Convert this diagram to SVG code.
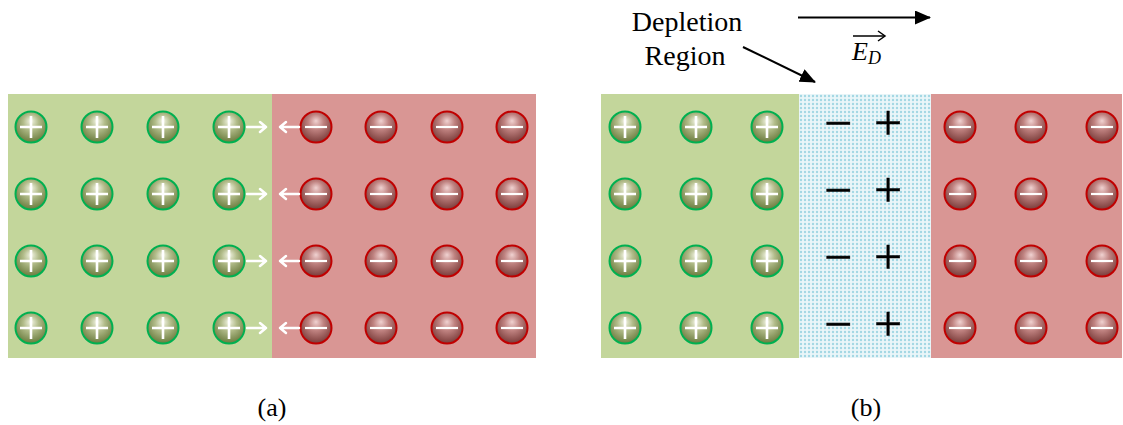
<svg xmlns="http://www.w3.org/2000/svg" xmlns:xlink="http://www.w3.org/1999/xlink" width="1123" height="425" viewBox="0 0 1123 425">
  <style>
    .ptype { fill: #c3d69b; }
    .ntype { fill: #d99694; }
    .serif { font-family: 'Liberation Serif', 'Times New Roman', serif; fill: #000; }
    .wline { stroke: #fff; stroke-width: 2.5; fill: none; stroke-linecap: round; stroke-linejoin: round; }
    .kline { stroke: #000; stroke-width: 2; fill: none; }
  </style>
  <defs>
    <radialGradient id="gradHole" cx="0.5" cy="0.4" r="0.62" fx="0.5" fy="0.3">
      <stop offset="0" stop-color="#f2f4e4"/>
      <stop offset="0.4" stop-color="#b2bc8a"/>
      <stop offset="1" stop-color="#66783a"/>
    </radialGradient>
    <radialGradient id="gradElec" cx="0.5" cy="0.4" r="0.62" fx="0.5" fy="0.3">
      <stop offset="0" stop-color="#f0d2d1"/>
      <stop offset="0.4" stop-color="#bf8280"/>
      <stop offset="1" stop-color="#763836"/>
    </radialGradient>
    <pattern id="dots" width="4" height="4" patternUnits="userSpaceOnUse" x="799" y="94">
      <rect width="4" height="4" fill="#eaf6f9"/>
      <circle cx="2" cy="2" r="1.2" fill="#a3d8e4"/>
    </pattern>
    <!-- positive carrier: green sphere with a plus -->
    <g id="hole">
      <circle r="15.5" fill="url(#gradHole)" stroke="#00b050" stroke-width="2"/>
      <path d="M-11 0H11M0 -11V11" stroke="#fff" stroke-width="2.6"/>
    </g>
    <!-- negative carrier: red sphere with a minus -->
    <g id="elec">
      <circle r="15.5" fill="url(#gradElec)" stroke="#c00000" stroke-width="2"/>
      <path d="M-11 0H11" stroke="#fff" stroke-width="2.2"/>
    </g>
    <marker id="bigHead" markerWidth="16" markerHeight="14" refX="15" refY="7" orient="auto" markerUnits="userSpaceOnUse" viewBox="0 0 16 14">
      <path d="M0 0L16 7L0 14Z" fill="#000"/>
    </marker>
  </defs>

  <rect width="1123" height="425" fill="#fff"/>

  <!-- (a) junction before diffusion -->
  <g id="a-p-region">
    <rect class="ptype" x="8" y="94" width="264" height="264"/>
    <use xlink:href="#hole" x="31" y="127"/><use xlink:href="#hole" x="97" y="127"/><use xlink:href="#hole" x="163" y="127"/><use xlink:href="#hole" x="229" y="127"/>
    <use xlink:href="#hole" x="31" y="194"/><use xlink:href="#hole" x="97" y="194"/><use xlink:href="#hole" x="163" y="194"/><use xlink:href="#hole" x="229" y="194"/>
    <use xlink:href="#hole" x="31" y="261"/><use xlink:href="#hole" x="97" y="261"/><use xlink:href="#hole" x="163" y="261"/><use xlink:href="#hole" x="229" y="261"/>
    <use xlink:href="#hole" x="31" y="328"/><use xlink:href="#hole" x="97" y="328"/><use xlink:href="#hole" x="163" y="328"/><use xlink:href="#hole" x="229" y="328"/>
  </g>
  <g id="a-n-region">
    <rect class="ntype" x="272" y="94" width="264" height="264"/>
    <use xlink:href="#elec" x="316" y="127"/><use xlink:href="#elec" x="381" y="127"/><use xlink:href="#elec" x="447" y="127"/><use xlink:href="#elec" x="512" y="127"/>
    <use xlink:href="#elec" x="316" y="194"/><use xlink:href="#elec" x="381" y="194"/><use xlink:href="#elec" x="447" y="194"/><use xlink:href="#elec" x="512" y="194"/>
    <use xlink:href="#elec" x="316" y="261"/><use xlink:href="#elec" x="381" y="261"/><use xlink:href="#elec" x="447" y="261"/><use xlink:href="#elec" x="512" y="261"/>
    <use xlink:href="#elec" x="316" y="328"/><use xlink:href="#elec" x="381" y="328"/><use xlink:href="#elec" x="447" y="328"/><use xlink:href="#elec" x="512" y="328"/>
  </g>

  <!-- (b) junction with depletion region -->
  <g id="b-p-region">
    <rect class="ptype" x="601" y="94" width="198" height="264"/>
    <use xlink:href="#hole" x="625" y="127"/><use xlink:href="#hole" x="696" y="127"/><use xlink:href="#hole" x="767" y="127"/>
    <use xlink:href="#hole" x="625" y="194"/><use xlink:href="#hole" x="696" y="194"/><use xlink:href="#hole" x="767" y="194"/>
    <use xlink:href="#hole" x="625" y="261"/><use xlink:href="#hole" x="696" y="261"/><use xlink:href="#hole" x="767" y="261"/>
    <use xlink:href="#hole" x="625" y="328"/><use xlink:href="#hole" x="696" y="328"/><use xlink:href="#hole" x="767" y="328"/>
  </g>
  <g id="b-depletion">
    <rect x="799" y="94" width="132" height="264" fill="url(#dots)"/>
    <g class="serif" font-size="50" text-anchor="middle" stroke="#000" stroke-width="0.4">
      <text x="838" y="140">−</text><text x="888" y="140">+</text>
      <text x="838" y="207">−</text><text x="888" y="207">+</text>
      <text x="838" y="274">−</text><text x="888" y="274">+</text>
      <text x="838" y="341">−</text><text x="888" y="341">+</text>
    </g>
  </g>
  <g id="b-n-region">
    <rect class="ntype" x="931" y="94" width="191" height="264"/>
    <use xlink:href="#elec" x="960" y="127"/><use xlink:href="#elec" x="1031" y="127"/><use xlink:href="#elec" x="1102" y="127"/>
    <use xlink:href="#elec" x="960" y="194"/><use xlink:href="#elec" x="1031" y="194"/><use xlink:href="#elec" x="1102" y="194"/>
    <use xlink:href="#elec" x="960" y="261"/><use xlink:href="#elec" x="1031" y="261"/><use xlink:href="#elec" x="1102" y="261"/>
    <use xlink:href="#elec" x="960" y="328"/><use xlink:href="#elec" x="1031" y="328"/><use xlink:href="#elec" x="1102" y="328"/>
  </g>

  <g id="depletion-label" class="serif" font-size="28" text-anchor="middle">
    <text x="687" y="31">Depletion</text>
    <text x="685" y="65">Region</text>
  </g>
  <g id="field-label">
    <text class="serif" x="852" y="60" font-size="26" font-style="italic">E<tspan font-size="18" dy="4">D</tspan></text>
    <path d="M853 36H884" stroke="#000" stroke-width="1.5" fill="none"/>
    <path d="M878 31L885 36L878 41" fill="none" stroke="#000" stroke-width="1.5"/>
  </g>

  <!-- connectors: diffusion arrows and labelled pointers -->
  <g id="connectors">
    <g class="wline">
      <path d="M247 127H266M260 122L266 127L260 132"/>
      <path d="M299 127H280M286 122L280 127L286 132"/>
      <path d="M247 194H266M260 189L266 194L260 199"/>
      <path d="M299 194H280M286 189L280 194L286 199"/>
      <path d="M247 261H266M260 256L266 261L260 266"/>
      <path d="M299 261H280M286 256L280 261L286 266"/>
      <path d="M247 328H266M260 323L266 328L260 333"/>
      <path d="M299 328H280M286 323L280 328L286 333"/>
    </g>
    <line class="kline" x1="743" y1="47" x2="815" y2="82" marker-end="url(#bigHead)"/>
    <line class="kline" x1="798" y1="17.5" x2="930" y2="17.5" marker-end="url(#bigHead)"/>
  </g>

  <g id="captions" class="serif" font-size="26" text-anchor="middle">
    <text x="272" y="416">(a)</text>
    <text x="866" y="416">(b)</text>
  </g>
</svg>
